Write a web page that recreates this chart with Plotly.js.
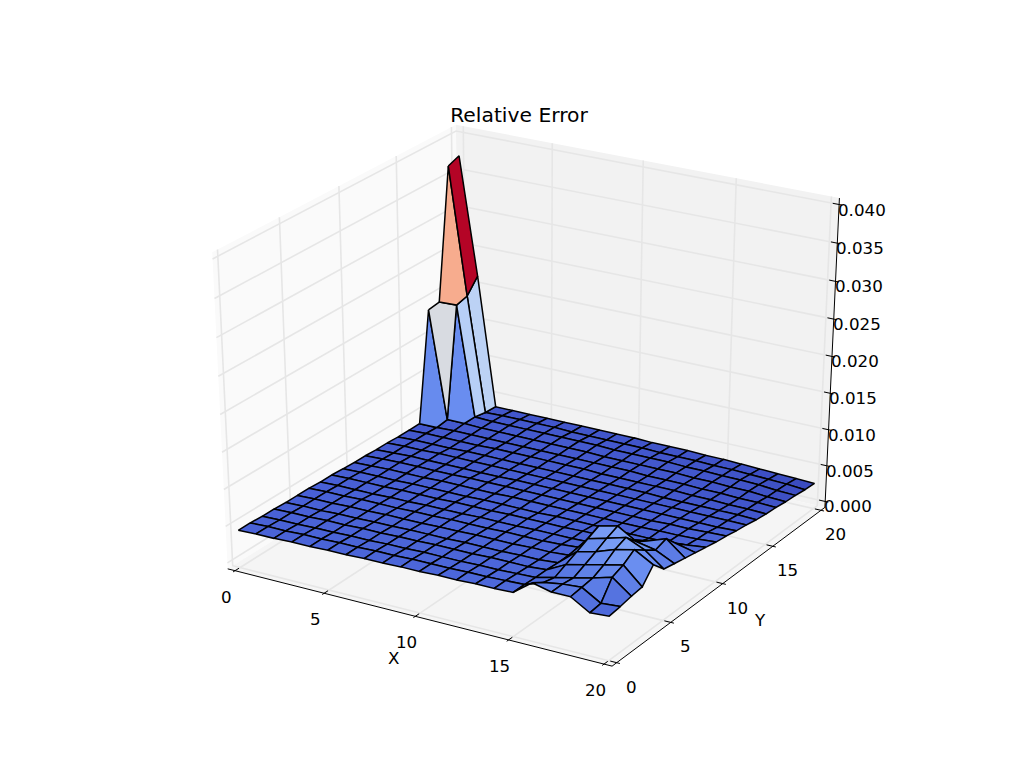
<!DOCTYPE html>
<html><head><meta charset="utf-8">
<script src="https://cdn.plot.ly/plotly-3.0.1.min.js"></script>
<style>html,body{margin:0;padding:0;background:#fff;overflow:hidden}</style>
</head><body><div id="chart" style="width:1013px;height:783px"></div>
<script>
const xValues=[0,1,2,3,4,5,6,7,8,9,10,11,12,13,14,15,16,17,18,19,20];
const yValues=[0,1,2,3,4,5,6,7,8,9,10,11,12,13,14,15,16,17,18,19,20];
const xTicks=[0,5,10,15,20];
const yTicks=[0,5,10,15,20];
const zTicks=[0,0.005,0.01,0.015,0.02,0.025,0.03,0.035,0.04];
// relative error in units of 1e-4; one row per Y, one column per X
const errorRows=[
[43,44,44,45,45,46,46,47,47,48,48,49,49,50,50,51,70,64,64,49,51],
[43,44,44,45,45,46,46,47,47,48,48,48,49,49,50,51,60,64,66,51,53],
[42,43,43,44,44,45,45,46,46,47,47,47,48,48,49,50,56,62,68,75,56],
[42,43,43,44,44,45,45,46,46,47,47,47,48,48,48,50,63,69,75,81,58],
[41,42,42,43,43,44,44,45,45,45,46,46,46,47,47,49,70,76,85,91,77],
[41,42,42,43,43,44,44,44,45,45,46,46,46,47,47,49,77,84,91,80,61],
[41,42,42,43,43,43,44,44,45,45,45,46,46,46,47,49,84,90,75,70,58],
[40,41,41,41,42,42,43,43,43,44,44,44,45,45,45,46,56,62,66,75,55],
[40,41,41,41,42,42,42,43,43,43,44,44,44,44,45,45,46,48,50,58,52],
[39,40,40,40,41,41,41,41,42,42,42,42,43,43,43,43,43,43,44,46,49],
[38,39,40,40,40,41,41,41,41,42,42,42,42,42,42,42,42,43,43,44,46],
[38,39,40,40,40,40,41,41,41,41,41,41,41,41,41,41,41,42,42,43,44],
[37,38,39,39,39,39,39,39,40,40,40,40,40,40,40,40,40,40,40,40,41],
[37,38,38,39,39,39,39,39,39,39,39,39,39,39,39,39,39,39,39,39,39],
[36,37,37,37,38,38,38,38,38,38,38,38,38,38,38,37,37,37,37,37,36],
[36,37,37,37,37,38,38,38,38,38,38,37,37,37,37,37,36,36,35,35,34],
[36,36,37,37,37,37,37,37,37,37,37,37,37,36,36,36,35,35,34,34,33],
[187,38,38,37,37,37,37,37,37,37,36,36,36,36,36,35,35,34,34,32,31],
[189,190,38,37,37,37,37,37,37,37,36,36,36,36,35,35,34,34,33,31,30],
[366,194,35,36,36,36,36,35,35,35,35,35,34,34,34,33,33,32,31,30,28],
[372,213,34,34,34,34,34,34,34,34,34,33,33,33,32,32,31,30,29,28,27]
];
const colorStops=[[0,'#3b4cc0'],[0.05,'#4860d6'],[0.1,'#4f6cdc'],[0.2,'#6e93f3'],[0.3,'#afcbf9'],[0.4,'#c8d8f2'],[0.5,'#dddcdc'],[0.6,'#f2cbb7'],[0.8,'#f7ac8e'],[1,'#b40426']];
const wallColors={left:'rgb(250,250,250)',back:'rgb(242,242,242)',floor:'rgb(245,245,245)'};

const LIM={x:[0,20],y:[0,20],z:[0,0.04]};
const el=28*Math.PI/180,az=-59.3*Math.PI/180,dist=10;
const n=[Math.cos(az)*Math.cos(el),Math.sin(az)*Math.cos(el),Math.sin(el)];
const u=[-n[1],n[0],0].map(a=>a/Math.hypot(n[0],n[1]));
const v=[n[1]*u[2]-n[2]*u[1],n[2]*u[0]-n[0]*u[2],n[0]*u[1]-n[1]*u[0]];
const dot=(a,b)=>a[0]*b[0]+a[1]*b[1]+a[2]*b[2];
function proj(x,y,z){
  const p=[(x-LIM.x[0])/(LIM.x[1]-LIM.x[0])-.5,(y-LIM.y[0])/(LIM.y[1]-LIM.y[0])-.5,(z-LIM.z[0])/(LIM.z[1]-LIM.z[0])-.5];
  const d=dist-dot(p,n);
  return {px:531+4285*dot(p,u)/d,py:385-3400*dot(p,v)/d,d:d};
}
const dX=20/48,dZ=0.04/48;
const X0=-dX,X1=20+dX,Y0=-dX,Y1=20+dX,Z0=-dZ,Z1=0.04+dZ;
function path(pts){const xs=[],ys=[];pts.forEach(p=>{if(!p){xs.push(null);ys.push(null);}else{const q=proj(p[0],p[1],p[2]);xs.push(q.px);ys.push(q.py);}});return {x:xs,y:ys};}
function hexRgb(h){return [1,3,5].map(i=>parseInt(h.substr(i,2),16));}
function cmap(t){t=Math.max(0,Math.min(1,t));
  for(let i=1;i<colorStops.length;i++){if(t<=colorStops[i][0]){
    const a=colorStops[i-1],b=colorStops[i],f=(t-a[0])/(b[0]-a[0]),A=hexRgb(a[1]),B=hexRgb(b[1]);
    return 'rgb('+A.map((c,k)=>Math.round(c+(B[k]-c)*f)).join(',')+')';}}
  return colorStops[colorStops.length-1][1];}

const traces=[];
function wall(pts,color){const p=path(pts.concat([pts[0]]));traces.push({type:'scatter',mode:'lines',x:p.x,y:p.y,fill:'toself',fillcolor:color,line:{width:0,color:color},hoverinfo:'skip'});}
wall([[X0,Y0,Z0],[X0,Y1,Z0],[X0,Y1,Z1],[X0,Y0,Z1]],wallColors.left);
wall([[X0,Y1,Z0],[X1,Y1,Z0],[X1,Y1,Z1],[X0,Y1,Z1]],wallColors.back);
wall([[X0,Y0,Z0],[X1,Y0,Z0],[X1,Y1,Z0],[X0,Y1,Z0]],wallColors.floor);
const gridPts=[];
xTicks.forEach(t=>gridPts.push([t,Y0,Z0],[t,Y1,Z0],[t,Y1,Z1],null));
yTicks.forEach(t=>gridPts.push([X1,t,Z0],[X0,t,Z0],[X0,t,Z1],null));
zTicks.forEach(t=>gridPts.push([X0,Y0,t],[X0,Y1,t],[X1,Y1,t],null));
let g=path(gridPts);traces.push({type:'scatter',mode:'lines',x:g.x,y:g.y,line:{color:'rgb(230,230,230)',width:1.6},hoverinfo:'skip'});
const axisPts=[[X0,Y0,Z0],[X1,Y0,Z0],null,[X1,Y0,Z0],[X1,Y1,Z0],null,[X1,Y1,Z0],[X1,Y1,Z1],null];
xTicks.forEach(t=>axisPts.push([t,Y0-1/6,Z0],[t,Y0+1/3,Z0],null));
yTicks.forEach(t=>axisPts.push([X1+1/6,t,Z0],[X1-1/3,t,Z0],null));
zTicks.forEach(t=>axisPts.push([X1+1/6,Y1,t],[X1-1/3,Y1,t],null));
let a=path(axisPts);traces.push({type:'scatter',mode:'lines',x:a.x,y:a.y,line:{color:'#000',width:1},hoverinfo:'skip'});
const faces=[];
for(let r=0;r<yValues.length-1;r++)for(let c=0;c<xValues.length-1;c++){
  const corner=[[c,r],[c+1,r],[c+1,r+1],[c,r+1]].map(([i,j])=>[xValues[i],yValues[j],errorRows[j][i]*1e-4]);
  const mean=corner.reduce((s,p)=>s+p[2],0)/4;
  const depth=corner.reduce((s,p)=>s+proj(p[0],p[1],p[2]).d,0)/4;
  faces.push({corner,mean,depth});
}
const mn=Math.min(...faces.map(f=>f.mean)),mx=Math.max(...faces.map(f=>f.mean));
faces.sort((p,q)=>q.depth-p.depth).forEach(f=>{
  const p=path(f.corner.concat([f.corner[0]]));
  traces.push({type:'scatter',mode:'lines',x:p.x,y:p.y,fill:'toself',fillcolor:cmap((f.mean-mn)/(mx-mn)),line:{color:'#000',width:1.5,simplify:false},hoverinfo:'skip'});
});
const font={family:'DejaVu Sans',size:16.7,color:'#000'};
const notes=[];
function label(pt,dx,dy,text){const q=proj(pt[0],pt[1],pt[2]);notes.push({xref:'x',yref:'y',x:q.px+dx,y:q.py+dy,text:text,showarrow:false,font:font,xanchor:'center',yanchor:'middle'});}
xTicks.forEach(t=>label([t,Y0,Z0],-9,26,String(t)));
yTicks.forEach(t=>label([X1,t,Z0],15,24,String(t)));
zTicks.forEach(t=>label([X1,Y1,t],23,5,t.toFixed(3)));
label([10,Y0,Z0],-22,42,'X');
label([X1,10,Z0],37,36,'Y');
Plotly.newPlot('chart',traces,{
 width:1013,height:783,margin:{l:0,r:0,t:0,b:0,pad:0},paper_bgcolor:'#fff',plot_bgcolor:'#fff',showlegend:false,
 xaxis:{visible:false,range:[0,1013],fixedrange:true},
 yaxis:{visible:false,range:[783,0],fixedrange:true},
 annotations:notes,
 title:{text:'Relative Error',x:519/1013,xref:'paper',xanchor:'center',y:1-115/783,yref:'container',yanchor:'middle',font:{family:'DejaVu Sans',size:20.3,color:'#000'}}
},{displayModeBar:false,staticPlot:true});
</script></body></html>
